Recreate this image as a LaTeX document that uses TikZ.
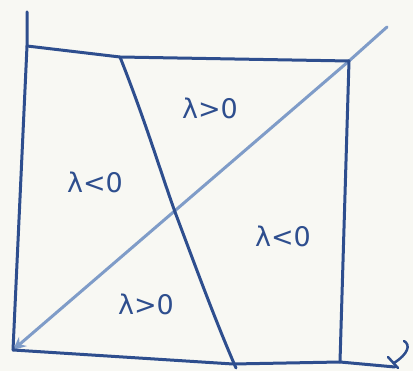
\documentclass[tikz,border=0pt]{standalone}
\usepackage{fontspec}
\setmainfont{DejaVu Sans}
\usetikzlibrary{arrows.meta}
\definecolor{ink}{HTML}{2E4E8E}
\definecolor{inklight}{HTML}{7F9CC8}
\definecolor{paper}{HTML}{F8F8F3}
\tikzset{
  pen/.style={draw=ink, line width=3pt, line cap=round, line join=round},
  lightpen/.style={draw=inklight, line width=3pt, line cap=round},
  lab/.style={text=ink, font=\fontsize{27}{29}\selectfont, inner sep=0pt}
}
\begin{document}
\begin{tikzpicture}[x={(1pt,0)}, y={(0,-1pt)}]
\fill[paper] (0,0) rectangle (413,371);
\useasboundingbox (0,0) rectangle (413,371);
% key points
\coordinate (ytop) at (27,12);
\coordinate (tl) at (27,46);
\coordinate (o) at (13,350);
\coordinate (tm) at (120,57);
\coordinate (tr) at (349,61);
\coordinate (br) at (340,362);
\coordinate (bm) at (233,364);
\coordinate (xend) at (395,367);
\coordinate (dend) at (387,27);
\coordinate (mid) at (175,212);
% diagonal
\draw[lightpen] (tr) -- (dend);
\draw[lightpen, -{Stealth[length=13pt,width=12pt,fill=ink]}] (tr) -- (o);
% axes
\draw[pen] (ytop) -- (tl) -- (o);
\draw[pen] (o) -- (bm) -- (br) -- (xend);
% square
\draw[pen] (tl) -- (tm) -- (tr) -- (br);
% slanted line
\draw[pen] (tm) .. controls (145,120) and (160,170) .. (mid) .. controls (195,265) and (215,320) .. (236,368);
% axis mark at lower right
\draw[pen, line width=2.5pt] (388,357) -- (398,368);
\draw[pen, line width=2.5pt] (404,341) .. controls (411,345) and (408,354) .. (394,363);
% labels
\node[lab] (a) at (210,108) {λ>0};
\node[lab] (b) at (95,182) {λ<0};
\node[lab] (c) at (283,236) {λ<0};
\node[lab] (d) at (146,304) {λ>0};
\end{tikzpicture}
\end{document}
